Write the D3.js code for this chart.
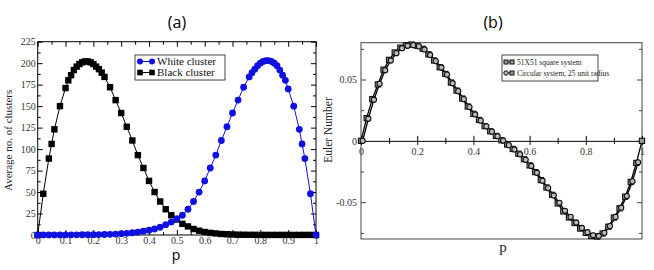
<!DOCTYPE html>
<html>
<head>
<meta charset="utf-8">
<script src="https://cdn.jsdelivr.net/npm/d3@7"></script>
<style>
  body { margin: 0; background: #fff; }
  svg { display: block; }
  .tk text { font-family: "Liberation Serif", "DejaVu Serif", serif; font-size: 10px; fill: #333; }
</style>
</head>
<body>
<svg id="chart" width="654" height="270"></svg>
<script>
// ---- panel (a): average number of clusters vs p
const pBlack = [0, 0.02, 0.04, 0.05, 0.06, 0.08, 0.10, 0.11, 0.12, 0.13, 0.14, 0.15, 0.16, 0.17, 0.18, 0.19, 0.20, 0.21, 0.22, 0.23, 0.24,
  0.26, 0.28, 0.30, 0.32, 0.34, 0.36, 0.38, 0.40, 0.42, 0.44, 0.46, 0.48, 0.50, 0.52, 0.54, 0.56, 0.58, 0.60, 0.62, 0.64, 0.66, 0.68,
  0.70, 0.72, 0.74, 0.76, 0.78, 0.80, 0.82, 0.84, 0.86, 0.88, 0.90, 0.92, 0.94, 0.96, 0.98, 1.0];
const blackCluster = [0, 48, 89, 106, 123, 150, 171, 180, 186, 192, 196, 199, 201, 202, 202, 201, 199, 196, 193, 189, 184,
  172, 157, 142, 126, 110, 93, 78, 63, 50, 39, 30, 23, 18, 13, 10, 7, 5, 3.5, 2.5, 1.8, 1.2, 0.9,
  0.6, 0.4, 0.3, 0.2, 0.2, 0.1, 0.1, 0.1, 0.1, 0.1, 0.1, 0.1, 0.1, 0.1, 0.1, 0];

const pWhite = [0, 0.02, 0.04, 0.06, 0.08, 0.10, 0.12, 0.14, 0.16, 0.18, 0.20, 0.22, 0.24, 0.26, 0.28, 0.30, 0.32, 0.34, 0.36,
  0.38, 0.40, 0.42, 0.44, 0.46, 0.48, 0.50, 0.52, 0.54, 0.56, 0.58, 0.60, 0.62, 0.64, 0.66, 0.68, 0.70, 0.72, 0.74, 0.76,
  0.77, 0.78, 0.79, 0.80, 0.81, 0.82, 0.83, 0.84, 0.85, 0.86, 0.87, 0.88, 0.89, 0.90, 0.92, 0.94, 0.95, 0.96, 0.98, 1.0];
const whiteCluster = [0, 0.1, 0.1, 0.1, 0.1, 0.1, 0.2, 0.2, 0.3, 0.3, 0.4, 0.5, 0.6, 0.8, 1.1, 1.5, 2.0, 2.6, 3.4,
  4.4, 5.6, 7, 9, 12, 15, 19, 23, 30, 39, 50, 63, 78, 93, 110, 126, 142, 157, 172, 184,
  189, 193, 197, 200, 202, 203, 203, 202, 200, 197, 192, 186, 180, 170, 150, 123, 106, 89, 48, 0];

// ---- panel (b): Euler number vs p
const pEuler = [0, 0.02, 0.04, 0.06, 0.08, 0.10, 0.12, 0.14, 0.16, 0.18, 0.20, 0.22, 0.24, 0.26, 0.28, 0.30, 0.32, 0.34, 0.36,
  0.38, 0.40, 0.42, 0.44, 0.46, 0.48, 0.50, 0.52, 0.54, 0.56, 0.58, 0.60, 0.62, 0.64, 0.66, 0.68, 0.70, 0.72, 0.74, 0.76,
  0.78, 0.80, 0.82, 0.84, 0.86, 0.88, 0.90, 0.92, 0.94, 0.96, 0.98, 1.0];
const eulerSquare = [0, 0.0185, 0.034, 0.046, 0.058, 0.066, 0.072, 0.076, 0.078, 0.0785, 0.0775, 0.075, 0.0705, 0.0655, 0.060, 0.0545, 0.0475, 0.041, 0.0345,
  0.028, 0.022, 0.017, 0.012, 0.0078, 0.004, 0.0005, -0.003, -0.0066, -0.0105, -0.015, -0.020, -0.0255, -0.032, -0.038, -0.044, -0.051, -0.0575, -0.0625, -0.067,
  -0.0715, -0.075, -0.0775, -0.078, -0.0755, -0.070, -0.0625, -0.055, -0.0455, -0.0335, -0.018, 0];
const eulerCircle = [0, 0.0180, 0.0335, 0.0465, 0.0575, 0.0655, 0.0715, 0.0755, 0.0775, 0.0780, 0.0770, 0.0745, 0.0700, 0.0650, 0.0598, 0.0540, 0.0470, 0.0405, 0.0340,
  0.0275, 0.0215, 0.0165, 0.0118, 0.0075, 0.0038, 0.0002, -0.0035, -0.0070, -0.0110, -0.0155, -0.0205, -0.0260, -0.0325, -0.0385, -0.0445, -0.0505, -0.0570, -0.0620, -0.0665,
  -0.0710, -0.0745, -0.0770, -0.0775, -0.0750, -0.0695, -0.0620, -0.0545, -0.0450, -0.0330, -0.0175, 0];

const legendA = ["White cluster", "Black cluster"];
const legendB = ["51X51 square system", "Circular system, 25 unit radius"];

const svg = d3.select("#chart");
const serif = "'Liberation Serif', 'DejaVu Serif', serif";
const sans = "'Open Sans', 'Noto Sans', sans-serif";

// titles
svg.append("text").attr("x", 177).attr("y", 28).attr("text-anchor", "middle")
  .attr("font-family", sans).attr("font-size", 16).text("(a)");
svg.append("text").attr("x", 493).attr("y", 28).attr("text-anchor", "middle")
  .attr("font-family", sans).attr("font-size", 16).text("(b)");

// ================= panel (a) =================
const xA = d3.scaleLinear().domain([0, 1]).range([37.7, 316]);
const yA = d3.scaleLinear().domain([0, 225]).range([235, 41.7]);
const gA = svg.append("g");

gA.append("rect").attr("x", xA(0)).attr("y", yA(225))
  .attr("width", xA(1) - xA(0)).attr("height", yA(0) - yA(225))
  .attr("fill", "none").attr("stroke", "#000").attr("stroke-width", 1);

// inward ticks on all four sides
function ticksA(axisFn, scale, major, minor, transform, fmt, showLabels, pad) {
  const g = gA.append("g").attr("class", "tk").attr("transform", transform);
  g.call(axisFn(scale).tickValues(minor).tickSize(-3).tickFormat(""));
  const gm = gA.append("g").attr("class", "tk").attr("transform", transform);
  gm.call(axisFn(scale).tickValues(major).tickSize(-5).tickPadding(pad).tickFormat(showLabels ? fmt : ""));
  [g, gm].forEach(s => { s.select(".domain").remove(); s.selectAll("line").attr("stroke", "#000"); });
  return gm;
}
const xMajA = d3.range(0, 1.0001, 0.1);
const xMinA = d3.range(0.05, 1, 0.1);
const yMajA = d3.range(0, 226, 25);
const yMinA = d3.range(12.5, 225, 25);
const fmtX = d => d === 0 ? "0" : d === 1 ? "1" : d3.format(".1f")(d);
ticksA(d3.axisBottom, xA, xMajA, xMinA, `translate(0,${yA(0)})`, fmtX, true, 2);
ticksA(d3.axisTop, xA, xMajA, xMinA, `translate(0,${yA(225)})`, fmtX, false, 2);
ticksA(d3.axisLeft, yA, yMajA, yMinA, `translate(${xA(0)},0)`, d3.format("d"), true, 2);
ticksA(d3.axisRight, yA, yMajA, yMinA, `translate(${xA(1)},0)`, d3.format("d"), false, 2);

gA.append("text").attr("x", 176).attr("y", 260).attr("text-anchor", "middle")
  .attr("font-family", sans).attr("font-size", 14).text("p");
gA.append("text").attr("transform", `translate(12,${(yA(0) + yA(225)) / 2 + 2}) rotate(-90)`)
  .attr("text-anchor", "middle").attr("font-family", serif).attr("font-size", 11)
  .attr("fill", "#222").text("Average no. of clusters");

const blue = "#1010e0";
const blackPts = pBlack.map((p, i) => [p, blackCluster[i]]);
const whitePts = pWhite.map((p, i) => [p, whiteCluster[i]]);
const lineA = d3.line().x(d => xA(d[0])).y(d => yA(d[1]));

gA.append("path").datum(blackPts).attr("d", lineA).attr("fill", "none").attr("stroke", "#000").attr("stroke-width", 1);
gA.append("path").datum(whitePts).attr("d", lineA).attr("fill", "none").attr("stroke", blue).attr("stroke-width", 1);

gA.selectAll(".sqA").data(blackPts).join("rect")
  .attr("x", d => xA(d[0]) - 3.2).attr("y", d => yA(d[1]) - 3.2)
  .attr("width", 6.4).attr("height", 6.4).attr("fill", "#000");
gA.selectAll(".ciA").data(whitePts).join("circle")
  .attr("cx", d => xA(d[0])).attr("cy", d => yA(d[1])).attr("r", 3.4).attr("fill", blue);

// legend (a)
const lgA = gA.append("g");
lgA.append("rect").attr("x", 135).attr("y", 55).attr("width", 90).attr("height", 25)
  .attr("fill", "#fff").attr("stroke", "#444").attr("stroke-width", 1);
legendA.forEach((t, i) => {
  const yy = 61.5 + i * 11;
  const col = i === 0 ? blue : "#000";
  lgA.append("line").attr("x1", 140).attr("x2", 152).attr("y1", yy).attr("y2", yy).attr("stroke", col);
  [140, 152].forEach(cx => {
    if (i === 0) lgA.append("circle").attr("cx", cx).attr("cy", yy).attr("r", 3).attr("fill", col);
    else lgA.append("rect").attr("x", cx - 2.8).attr("y", yy - 2.8).attr("width", 5.6).attr("height", 5.6).attr("fill", col);
  });
  lgA.append("text").attr("x", 157).attr("y", yy + 3.8).attr("font-family", serif)
    .attr("font-size", 11).attr("fill", "#111").text(t);
});

// ================= panel (b) =================
const xB = d3.scaleLinear().domain([0, 1]).range([361, 642]);
const yB = d3.scaleLinear().domain([-0.08, 0.08]).range([239, 42.7]);
const gB = svg.append("g");

gB.append("rect").attr("x", xB(0)).attr("y", yB(0.08))
  .attr("width", xB(1) - xB(0)).attr("height", yB(-0.08) - yB(0.08))
  .attr("fill", "none").attr("stroke", "#444").attr("stroke-width", 1);

const yMajB = [-0.05, 0, 0.05];
const yMinB = [-0.075, -0.025, 0.025, 0.075];
function ticksB(axisFn, major, minor, transform, labels) {
  const g = gB.append("g").attr("class", "tk").attr("transform", transform);
  g.call(axisFn(yB).tickValues(minor).tickSize(-3).tickFormat(""));
  const gm = gB.append("g").attr("class", "tk").attr("transform", transform);
  gm.call(axisFn(yB).tickValues(major).tickSize(-5).tickPadding(4)
    .tickFormat(labels ? (d => d === 0 ? "0" : d3.format(".2f")(d).replace("−", "-")) : ""));
  [g, gm].forEach(s => { s.select(".domain").remove(); s.selectAll("line").attr("stroke", "#444"); });
}
ticksB(d3.axisLeft, yMajB, yMinB, `translate(${xB(0)},0)`, true);
ticksB(d3.axisRight, yMajB, yMinB, `translate(${xB(1)},0)`, false);

// x axis on the zero line, ticks crossing the line
const gx = gB.append("g").attr("class", "tk").attr("transform", `translate(0,${yB(0)})`);
gx.call(d3.axisBottom(xB).tickValues([0, 0.2, 0.4, 0.6, 0.8, 1]).tickSize(4).tickPadding(3)
  .tickFormat(d => d === 0 ? "0" : d === 1 ? "1" : d3.format(".1f")(d)));
gx.select(".domain").attr("stroke", "#000");
gx.selectAll(".tick line").attr("y1", -5).attr("stroke", "#000");
gx.selectAll("text").attr("fill", "#333");
const gxm = gB.append("g").attr("transform", `translate(0,${yB(0)})`);
gxm.call(d3.axisBottom(xB).tickValues([0.1, 0.3, 0.5, 0.7, 0.9]).tickSize(3).tickFormat(""));
gxm.select(".domain").remove();
gxm.selectAll("line").attr("y1", -3).attr("stroke", "#000");

gB.append("text").attr("x", 503).attr("y", 252).attr("text-anchor", "middle")
  .attr("font-family", serif).attr("font-size", 15).attr("fill", "#222").text("p");
gB.append("text").attr("transform", `translate(332,130) rotate(-90)`)
  .attr("text-anchor", "middle").attr("font-family", serif).attr("font-size", 11.5)
  .attr("fill", "#222").text("Euler Number");

const sqPts = pEuler.map((p, i) => [p, eulerSquare[i]]);
const ciPts = pEuler.map((p, i) => [p + 0.006, eulerCircle[i]]).filter(d => d[0] <= 1);
const lineB = d3.line().x(d => xB(d[0])).y(d => yB(d[1]));
gB.append("path").datum(sqPts).attr("d", lineB).attr("fill", "none").attr("stroke", "#000").attr("stroke-width", 1.3);
gB.append("path").datum(ciPts).attr("d", lineB).attr("fill", "none").attr("stroke", "#000").attr("stroke-width", 1.3);

gB.selectAll(".sqB").data(sqPts).join("rect")
  .attr("x", d => xB(d[0]) - 2.6).attr("y", d => yB(d[1]) - 2.6)
  .attr("width", 5.2).attr("height", 5.2).attr("fill", "#999").attr("stroke", "#111").attr("stroke-width", 1.1);
gB.selectAll(".ciB").data(ciPts).join("circle")
  .attr("cx", d => xB(d[0])).attr("cy", d => yB(d[1])).attr("r", 2.6)
  .attr("fill", "#bbb").attr("stroke", "#111").attr("stroke-width", 1.1);

// legend (b)
const lgB = gB.append("g");
lgB.append("rect").attr("x", 502).attr("y", 55).attr("width", 96).attr("height", 26)
  .attr("fill", "#fff").attr("stroke", "#444").attr("stroke-width", 1);
legendB.forEach((t, i) => {
  const yy = 62 + i * 11;
  lgB.append("line").attr("x1", 506).attr("x2", 512).attr("y1", yy).attr("y2", yy).attr("stroke", "#111");
  [506, 512].forEach((cx, k) => {
    if (i === 0 || k === 1) lgB.append("rect").attr("x", cx - 2).attr("y", yy - 2).attr("width", 4).attr("height", 4)
      .attr("fill", "#999").attr("stroke", "#111");
    else lgB.append("circle").attr("cx", cx).attr("cy", yy).attr("r", 2.2).attr("fill", "#bbb").attr("stroke", "#111");
  });
  lgB.append("text").attr("x", 517).attr("y", yy + 2.6).attr("font-family", serif)
    .attr("font-size", 7.5).attr("fill", "#222").text(t);
});
</script>
</body>
</html>
